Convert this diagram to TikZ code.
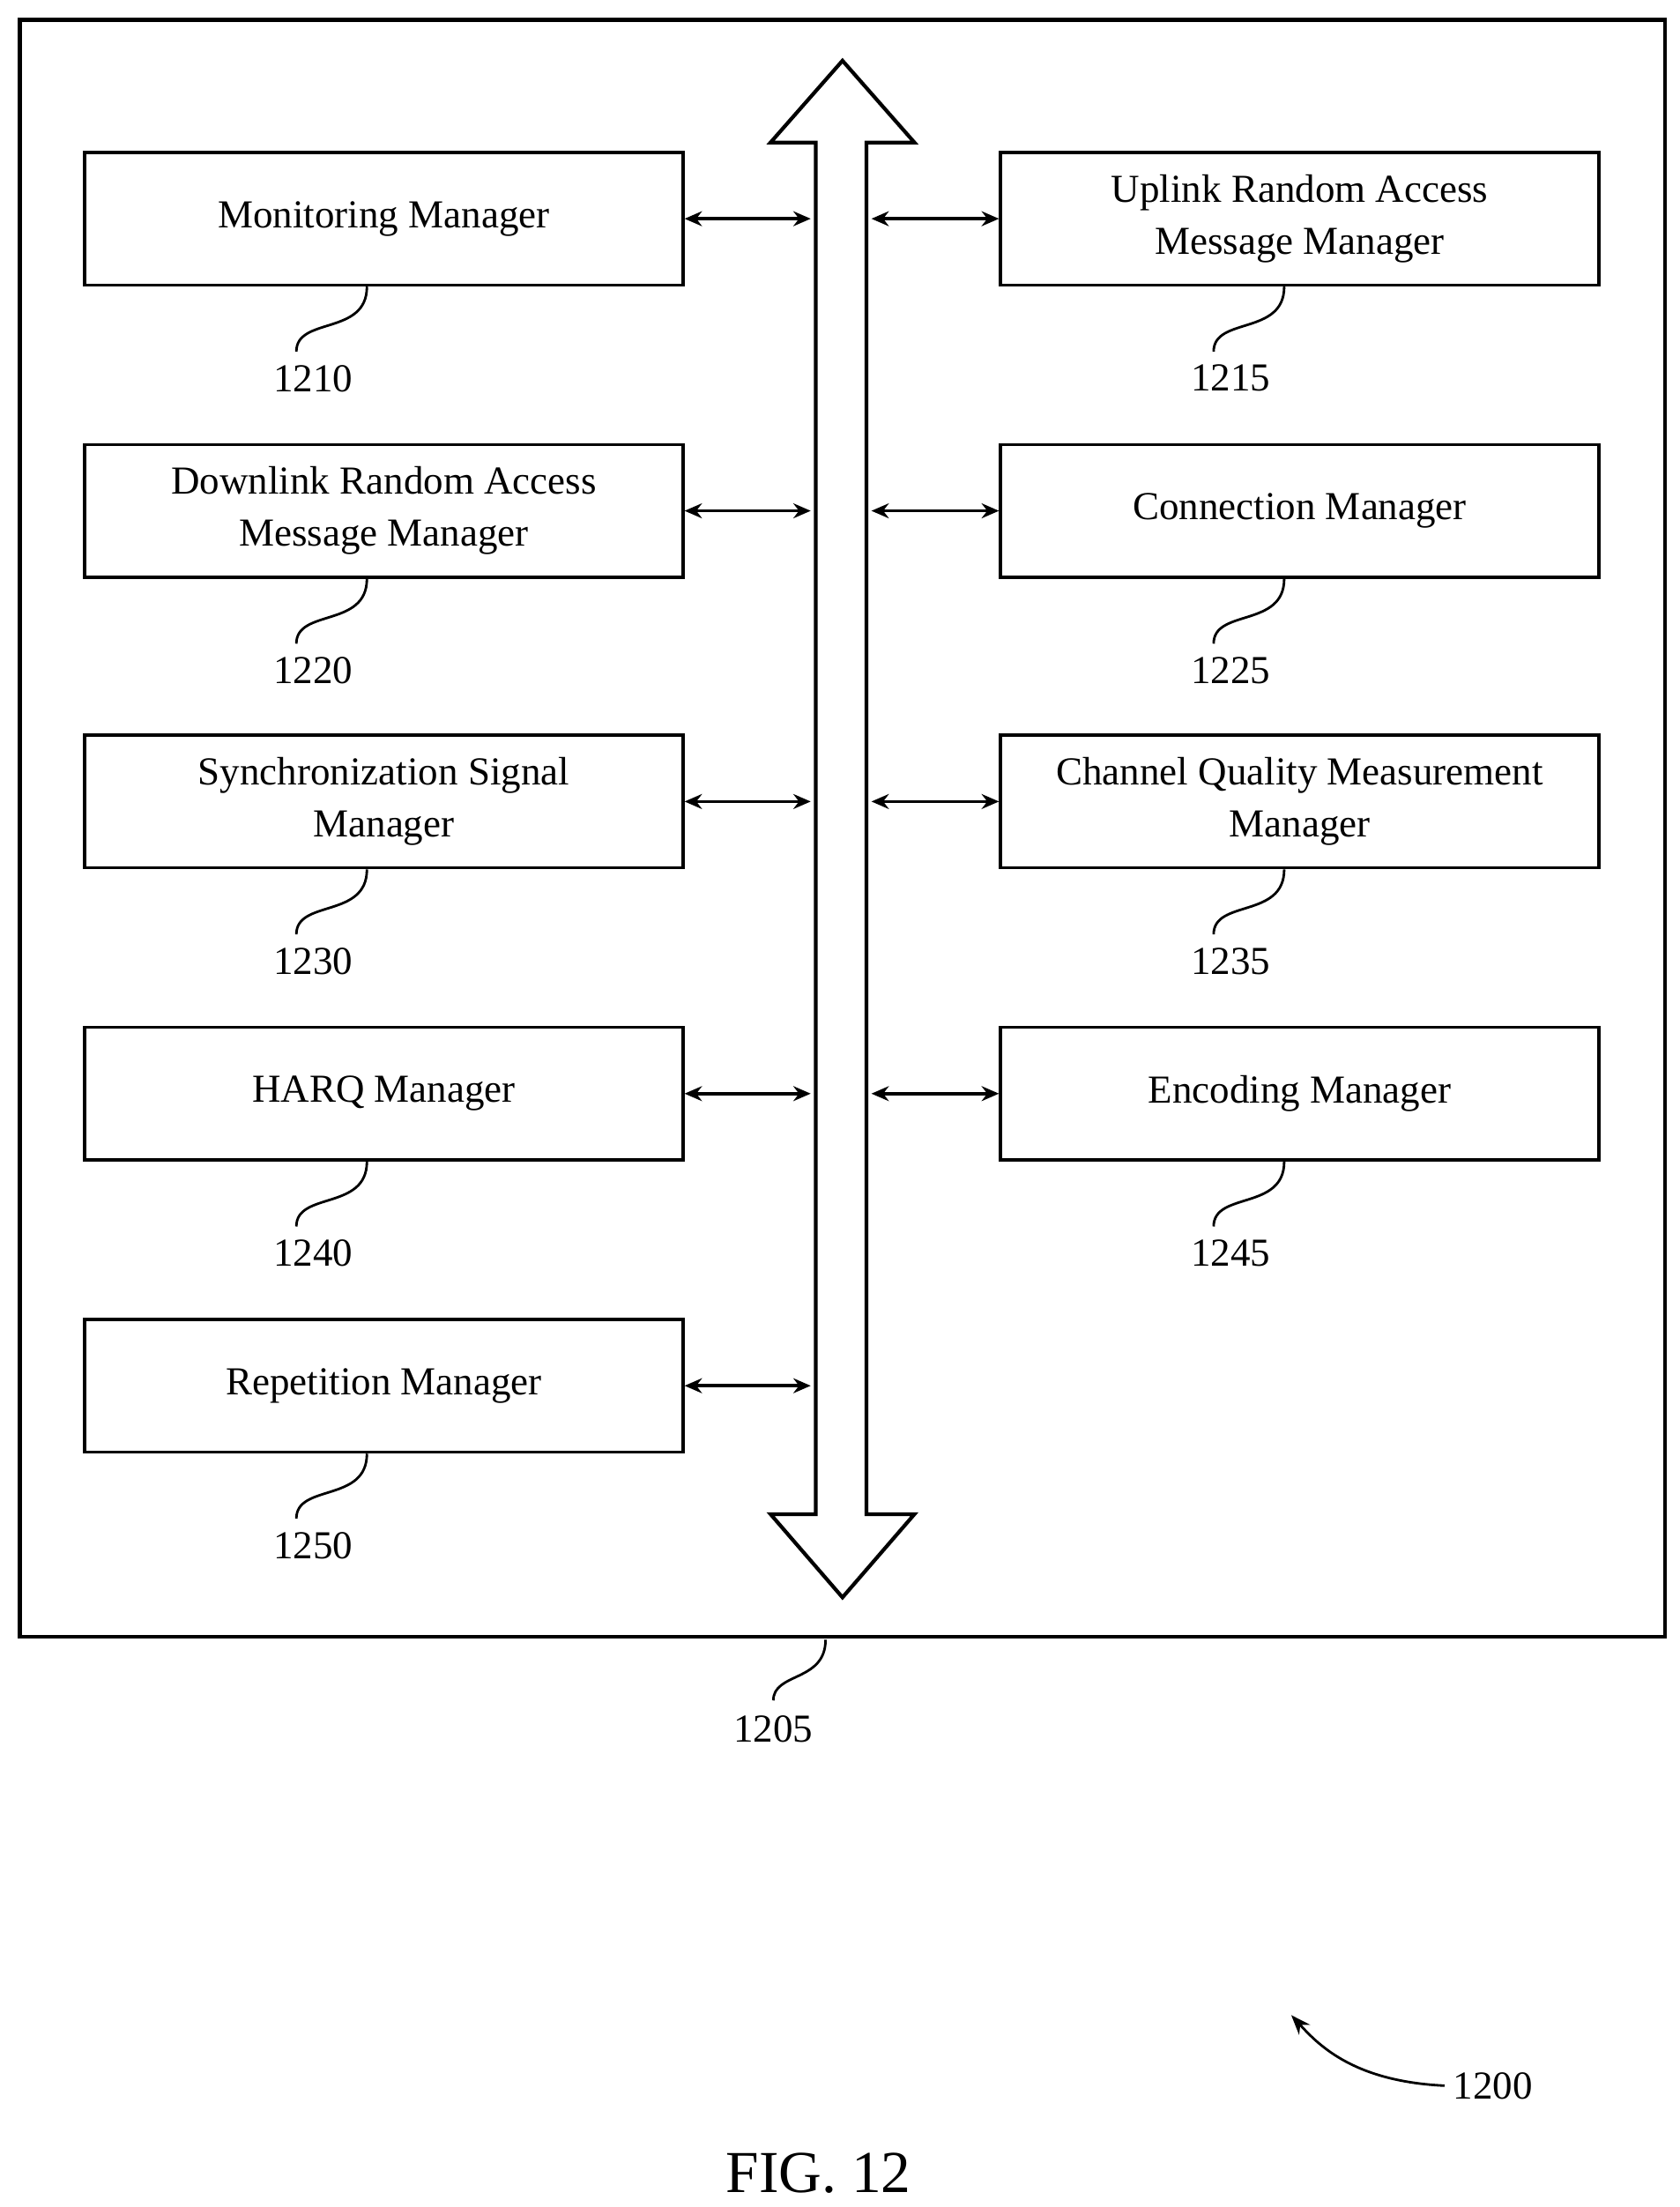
\documentclass[tikz,border=0pt]{standalone}
\usepackage{fontspec}
\setmainfont{Liberation Serif}
\usetikzlibrary{positioning,arrows.meta}
\tikzset{
  block/.style={draw, line width=1.3pt, minimum width=8.48cm, minimum height=1.88cm,
    align=center, font=\fontsize{16}{21}\selectfont},
  link/.style={{Stealth[length=7pt,width=6pt]}-{Stealth[length=7pt,width=6pt]}, line width=1.3pt},
  leader/.style={line width=1pt},
  refnum/.style={font=\fontsize{16}{19}\selectfont}
}
\begin{document}
\begin{tikzpicture}[x=0.02cm,y=-0.02cm]
    \useasboundingbox (0,0) rectangle (1190,1564);
    \draw[line width=1.5pt] (14,14) rectangle (1180,1160);
    % bus
    \draw[line width=1.5pt] (578,101) -- (546,101) -- (597,43) -- (648,101) -- (614,101)
      -- (614,1073) -- (648,1073) -- (597,1132) -- (546,1073) -- (578,1073) -- cycle;
    \coordinate (busL) at (578,0);
    \coordinate (busR) at (614,0);
    % managers
    \node[block] (mon) at (272,155) {Monitoring Manager};
    \node[block] (dl) at (272,362) {Downlink Random Access\\Message Manager};
    \node[block] (sync) at (272,568) {Synchronization Signal\\Manager};
    \node[block] (harq) at (272,775) {HARQ Manager};
    \node[block] (rep) at (272,982) {Repetition Manager};
    \node[block] (ul) at (921,155) {Uplink Random Access\\Message Manager};
    \node[block] (conn) at (921,362) {Connection Manager};
    \node[block] (cqm) at (921,568) {Channel Quality Measurement\\Manager};
    \node[block] (enc) at (921,775) {Encoding Manager};
    % links to bus
    \foreach \b in {mon,dl,sync,harq,rep}
      \draw[link] (\b.east) -- ([xshift=-2pt]busL |- \b.east);
    \foreach \b in {ul,conn,cqm,enc}
      \draw[link] (\b.west) -- ([xshift=2pt]busR |- \b.west);
    % reference numbers
    \foreach \b/\n in {mon/1210,dl/1220,sync/1230,harq/1240,rep/1250}{
      \draw[leader] ([xshift=-0.24cm]\b.south) .. controls +(0,35) and +(0,-25) .. ++(-50,46);
      \node[refnum] (n\n) at ([xshift=-1cm,yshift=-1.3cm]\b.south) {\n};
    }
    \foreach \b/\n in {ul/1215,conn/1225,cqm/1235,enc/1245}{
      \draw[leader] ([xshift=-0.22cm]\b.south) .. controls +(0,35) and +(0,-25) .. ++(-50,46);
      \node[refnum] (n\n) at ([xshift=-0.98cm,yshift=-1.3cm]\b.south) {\n};
    }
    \coordinate (sys) at (585,1162);
    \draw[leader] (sys) .. controls +(0,30) and +(0,-20) .. (548,1205);
    \node[refnum] (n1205) at (548,1225) {1205};
    \node[refnum] (n1200) at (1058,1478) {1200};
    \coordinate (tip) at (915,1428);
    \draw[leader,-{Stealth[length=8pt,width=6pt]}] (n1200.west) .. controls (960,1475) and (935,1450) .. (tip);
    \node[font=\fontsize{24}{28}\selectfont] (fig) at (580,1540) {FIG. 12};
\end{tikzpicture}
\end{document}
